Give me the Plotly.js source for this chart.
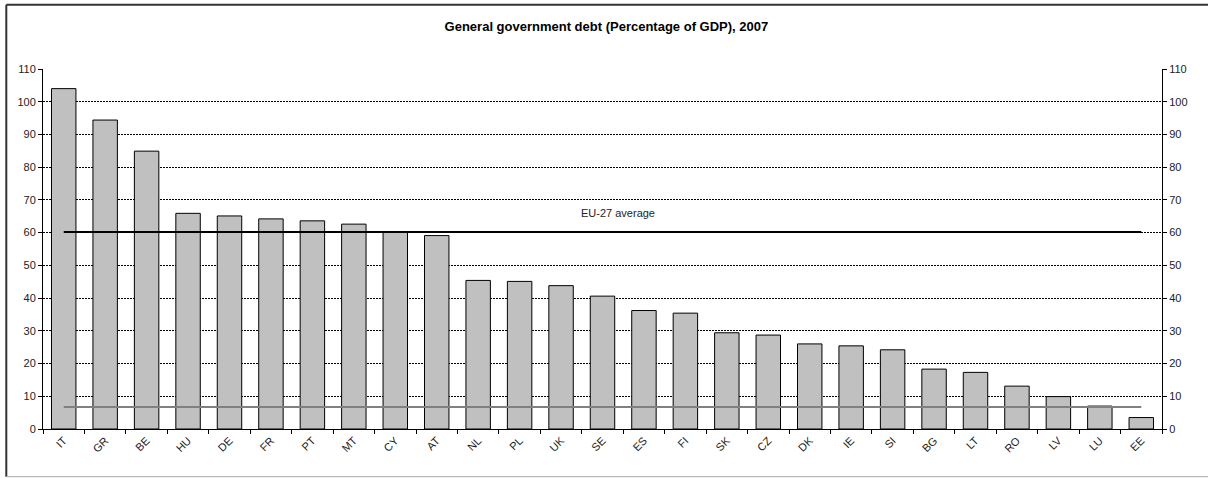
<!DOCTYPE html>
<html>
<head>
<meta charset="utf-8">
<script src="https://cdn.plot.ly/plotly-3.0.1.min.js"></script>
<style>html,body{margin:0;padding:0;background:#fff;}#chart{width:1208px;height:478px;}</style>
</head>
<body>
<div id="chart"></div>
<script>
const countries = ["IT","GR","BE","HU","DE","FR","PT","MT","CY","AT","NL","PL","UK","SE","ES","FI","SK","CZ","DK","IE","SI","BG","LT","RO","LV","LU","EE"];
const debtPct = [104.0,94.4,84.9,65.9,65.1,64.2,63.6,62.6,60.1,59.1,45.4,45.1,43.8,40.6,36.2,35.4,29.4,28.7,26.0,25.4,24.2,18.3,17.3,13.1,9.9,7.0,3.5];
const eu27Average = 60.2;
const lowerReference = 6.7;
const yTicks = [0,10,20,30,40,50,60,70,80,90,100,110];

const first = countries[0], last = countries[countries.length-1];
const tickFont = {family: "Arial, Liberation Sans, sans-serif", size: 11, color: "#222"};

const traces = [
  {type: "bar", x: countries, y: debtPct,
   marker: {color: "#c0c0c0", line: {color: "#000", width: 1}},
   hoverinfo: "x+y", showlegend: false},
  {type: "scatter", mode: "lines", x: [first, last], y: [eu27Average, eu27Average],
   line: {color: "#000", width: 2}, showlegend: false},
  {type: "scatter", mode: "lines", x: [first, last], y: [lowerReference, lowerReference],
   yaxis: "y2", line: {color: "#808080", width: 2}, showlegend: false}
];

const layout = {
  width: 1208, height: 478,
  margin: {l: 43, r: 46, t: 69, b: 49},
  paper_bgcolor: "#fff", plot_bgcolor: "#fff",
  bargap: 0.41,
  title: {text: "<b>General government debt (Percentage of GDP), 2007</b>",
          font: {family: "Arial, Liberation Sans, sans-serif", size: 13, color: "#000"},
          x: 0.502, xanchor: "center", y: 0.944, yanchor: "middle"},
  xaxis: {type: "category", tickson: "boundaries", ticks: "outside", ticklen: 4, tickcolor: "#000",
          showline: true, linecolor: "#000", linewidth: 1, showgrid: false, zeroline: false,
          tickangle: -45, tickfont: tickFont, fixedrange: true},
  yaxis: {range: [0, 110], tickvals: yTicks, ticks: "outside", ticklen: 4, tickcolor: "#000",
          showline: true, linecolor: "#000", linewidth: 1,
          showgrid: true, gridcolor: "#000", gridwidth: 1, griddash: "2px,1px",
          zeroline: false, tickfont: tickFont, fixedrange: true},
  yaxis2: {range: [0, 110], tickvals: yTicks, overlaying: "y", side: "right",
           ticks: "outside", ticklen: 4, tickcolor: "#000",
           showline: true, linecolor: "#000", linewidth: 1, showgrid: false, zeroline: false,
           tickfont: tickFont, fixedrange: true},
  annotations: [
    {text: "EU-27 average", x: 13.38, y: 66, xref: "x", yref: "y", showarrow: false,
     font: {family: "Arial, Liberation Sans, sans-serif", size: 11, color: "#222"}}
  ],
  shapes: [
    {type: "line", xref: "paper", yref: "paper", x0: -0.0328, x1: 1.05, y0: 1.1786, y1: 1.1786, line: {color: "#333", width: 2}},
    {type: "line", xref: "paper", yref: "paper", x0: -0.0328, x1: -0.0328, y0: 1.1786, y1: -0.1325, line: {color: "#333", width: 2}},
    {type: "line", xref: "paper", yref: "paper", x0: -0.0328, x1: 1.05, y0: -0.1325, y1: -0.1325, line: {color: "#aaa", width: 1}}
  ]
};

Plotly.newPlot("chart", traces, layout, {displayModeBar: false, staticPlot: true});
</script>
</body>
</html>
